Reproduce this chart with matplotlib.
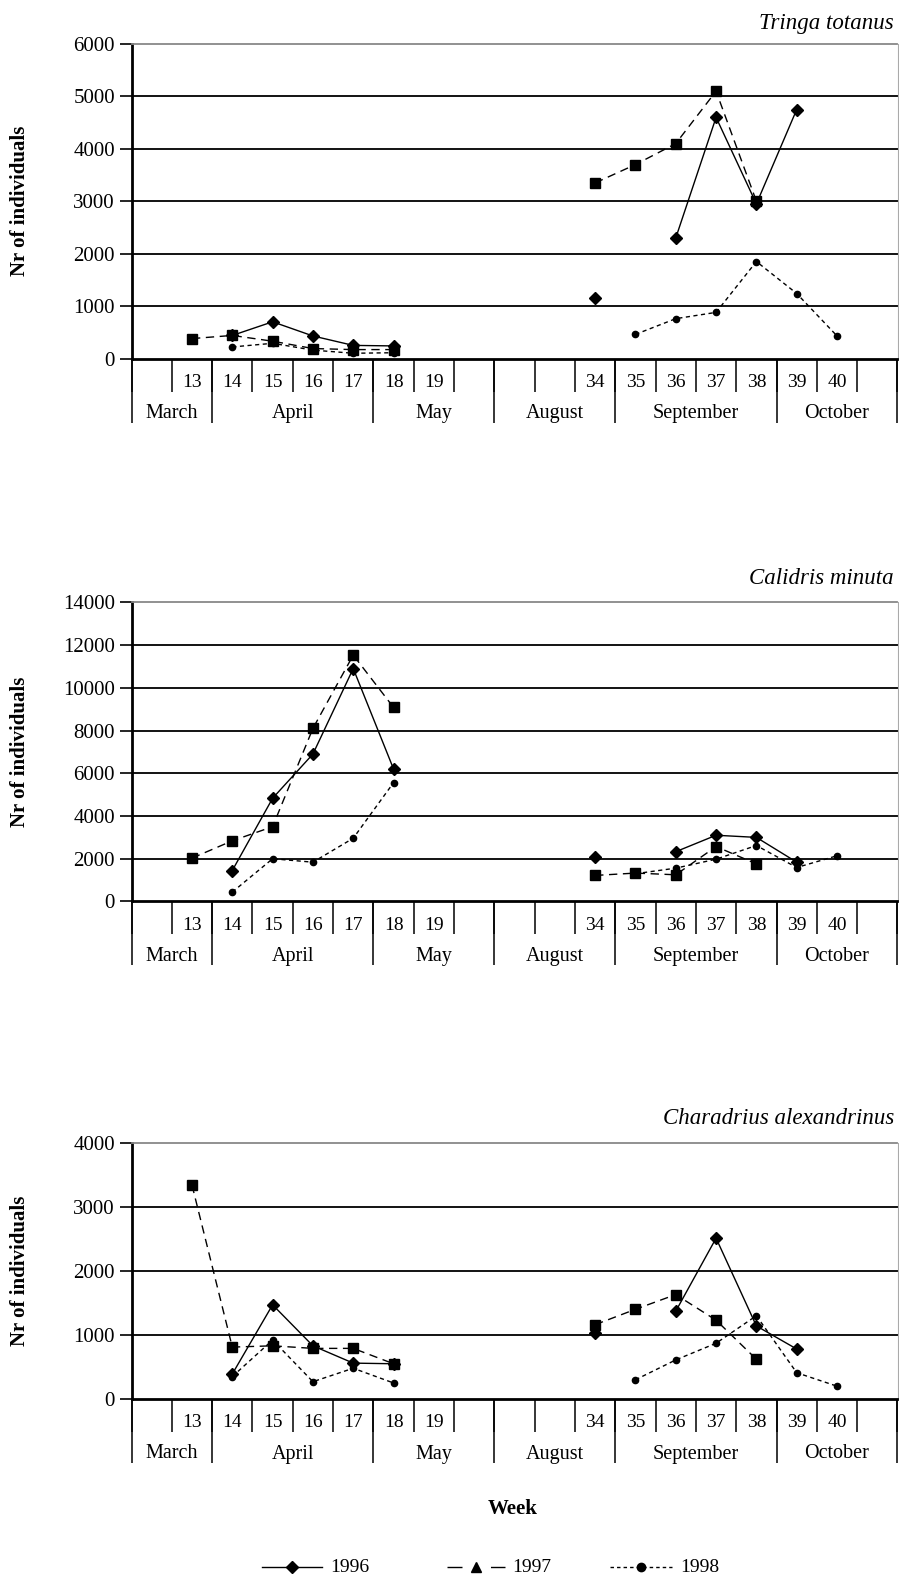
import numpy as np
import matplotlib
matplotlib.use("Agg")
import matplotlib.pyplot as plt
from matplotlib.lines import Line2D

plt.rcParams['font.family'] = ['Liberation Serif', 'DejaVu Serif']

W, H = 899, 1577
n = np.nan

# category axis: 19 week slots, grouped by month
week_labels = ["", "13", "14", "15", "16", "17", "18", "19", "", "", "",
               "34", "35", "36", "37", "38", "39", "40", ""]
months = ["March", "April", "May", "August", "September", "October"]
month_first = [0, 2, 6, 9, 12, 16]
month_last = [1, 5, 8, 11, 15, 18]
years = ["1996", "1997", "1998"]

# Tringa totanus
tringa_1996 = [n, n, 440, 700, 430, 250, 240, n, n, n, n, 1150, n, 2300, 4600, 2950, 4750, n, n]
tringa_1997 = [n, 380, 440, 330, 190, 170, 170, n, n, n, n, 3350, 3700, 4100, 5100, 3000, n, n, n]
tringa_1998 = [n, n, 220, 290, 160, 100, 110, n, n, n, n, n, 460, 760, 880, 1850, 1240, 430, n]

# Calidris minuta
calidris_1996 = [n, n, 1450, 4830, 6900, 10900, 6200, n, n, n, n, 2070, n, 2330, 3100, 3000, 1840, n, n]
calidris_1997 = [n, 2030, 2840, 3500, 8100, 11530, 9080, n, n, n, n, 1220, 1330, 1250, 2570, 1760, n, n, n]
calidris_1998 = [n, n, 440, 2000, 1840, 2960, 5560, n, n, n, n, n, 1300, 1560, 1980, 2620, 1590, 2140, n]

# Charadrius alexandrinus
charadrius_1996 = [n, n, 390, 1470, 830, 560, 550, n, n, n, n, 1030, n, 1370, 2510, 1140, 780, n, n]
charadrius_1997 = [n, 3340, 810, 830, 790, 790, 550, n, n, n, n, 1160, 1400, 1630, 1230, 620, n, n, n]
charadrius_1998 = [n, n, 350, 920, 270, 480, 250, n, n, n, n, n, 300, 610, 870, 1300, 410, 200, n]

panels = [
    ("Tringa totanus", [tringa_1996, tringa_1997, tringa_1998], 6000, 1000, 44, 358.5, 24),
    ("Calidris minuta", [calidris_1996, calidris_1997, calidris_1998], 14000, 2000, 602.3, 901.5, 578),
    ("Charadrius alexandrinus", [charadrius_1996, charadrius_1997, charadrius_1998], 4000, 1000, 1142.7, 1399, 1118),
]

styles = [
    dict(linestyle="-", marker="D", markersize=6),
    dict(linestyle=(0, (6, 4)), marker="s", markersize=6.5),
    dict(linestyle=(0, (3, 2.5)), marker="o", markersize=4.5),
]

L, R = 131.5, 897.5
fig = plt.figure(figsize=(W / 100, H / 100), dpi=100)

for title, series, ymax, ystep, top, bot, ty in panels:
    ax = fig.add_axes([L / W, 1 - bot / H, (R - L) / W, (bot - top) / H])
    axh = bot - top
    x = np.arange(len(week_labels))
    for vals, st in zip(series, styles):
        ax.plot(x, np.array(vals, dtype=float), color="black", lw=1.0, **st)

    ax.set_xlim(-0.5, len(week_labels) - 0.5)
    ax.set_ylim(0, ymax)
    yt = np.arange(0, ymax + 1, ystep)
    ax.set_yticks(yt)
    for v in yt[1:-1]:
        ax.axhline(v, color="black", lw=1.3, zorder=0.5)

    ax.spines["left"].set_linewidth(2)
    ax.spines["bottom"].set_linewidth(2)
    ax.spines["top"].set_color("#888888")
    ax.spines["right"].set_color("#aaaaaa")
    ax.spines["top"].set_linewidth(1.3)
    ax.spines["right"].set_linewidth(0.8)
    ax.tick_params(axis="y", length=9, width=1.2, labelsize=15, pad=3)

    ax.set_xticks(x, week_labels)
    ax.tick_params(axis="x", length=0, labelsize=14, pad=11)

    trans = ax.get_xaxis_transform()
    bounds = np.arange(len(week_labels) + 1) - 0.5
    ax.vlines(bounds, -33 / axh, 0, transform=trans, clip_on=False, color="black", lw=1.1)
    mb = [month_first[0] - 0.5] + [m + 0.5 for m in month_last]
    ax.vlines(mb, -64 / axh, 0, transform=trans, clip_on=False, color="black", lw=1.1)
    for name, a, b in zip(months, month_first, month_last):
        ax.text((a + b) / 2, -55 / axh, name, transform=trans, ha="center", va="center", fontsize=14.5)

    fig.text(894 / W, 1 - ty / H, title, ha="right", va="center", fontsize=16.5, style="italic")
    fig.text(20 / W, 1 - (top + bot) / 2 / H, "Nr of individuals", rotation=90,
             ha="center", va="center", fontsize=15, fontweight="bold")

fig.text(513 / W, 1 - 1509 / H, "Week", ha="center", va="center", fontsize=15, fontweight="bold")

# legend drawn by hand to match the spacing of the original
leg_y = 1 - 1567 / H
leg = [(262, 322, 330, "-", "D", 6), (447, 505, 512, (0, (10.8, 20.5)), "^", 6.5), (610, 672, 680, (0, (2.5, 2.2)), "o", 6)]
for year, (x0, x1, xt, ls, mk, ms) in zip(years, leg):
    fig.add_artist(Line2D([x0 / W, x1 / W], [leg_y, leg_y], transform=fig.transFigure,
                          color="black", lw=1.0, linestyle=ls))
    fig.add_artist(Line2D([(x0 + x1) / 2 / W], [leg_y], transform=fig.transFigure,
                          color="black", marker=mk, markersize=ms, linestyle="none"))
    fig.text(xt / W, leg_y, year, ha="left", va="center", fontsize=14)

fig.savefig("out.png", dpi=100)
